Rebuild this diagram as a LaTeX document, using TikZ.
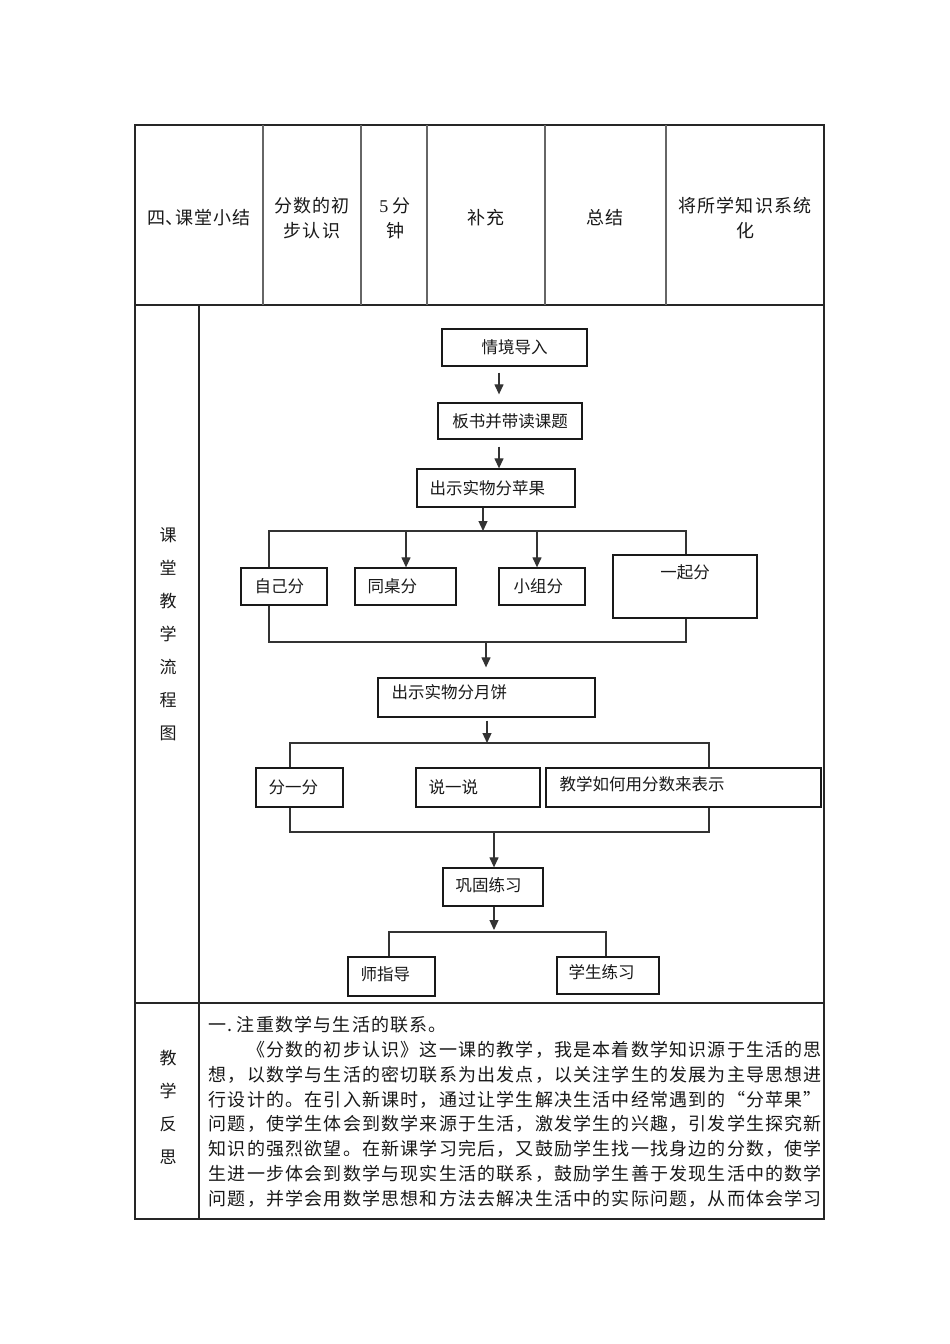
\documentclass[tikz,border=0pt]{standalone}
\usepackage{fontspec}
\setmainfont{Noto Sans CJK SC}
\newfontfamily\lat{Liberation Serif}
\usetikzlibrary{arrows.meta,calc}
\newlength\cw
\setlength\cw{19.2pt}
\def\cc#1{\ccA#1\relax}
\def\ccA#1{\ifx\relax#1\else\makebox[\cw]{#1}\expandafter\ccA\fi}
\newcommand\mkbox[5]{\node[box, minimum width={(#4-#2)*1pt}, minimum height={(#5-#3)*1pt}] (#1) at ({(#2+#4)/2},{(#3+#5)/2}) {};}
\begin{document}
\begin{tikzpicture}[x=1pt,y=-1pt,
  box/.style={draw=black!90, line width=1.3pt, inner sep=0pt, fill=white},
  conn/.style={draw=black!80, line width=1.2pt},
  arr/.style={conn, -{Triangle[length=10pt,width=9pt]}},
  grid/.style={draw=black!85, line width=1.4pt},
  gridthin/.style={draw=black!60, line width=1.1pt},
  ftxt/.style={font=\fontsize{16.5}{20}\selectfont, inner sep=0pt, text=black!90},
  ttxt/.style={font=\fontsize{18}{25}\selectfont, inner sep=0pt, align=center, text=black!90},
  ptxt/.style={font=\fontsize{18}{25}\selectfont, inner sep=0pt, anchor=west, text=black!90},
  vtxt/.style={font=\fontsize{17}{33}\selectfont, inner sep=0pt, align=center, text=black!90}]
\fill[white] (0,0) rectangle (950,1344);
\useasboundingbox (0,0) rectangle (950,1344);

% table
\draw[grid] (135,125) rectangle (824,1219);
\draw[grid] (135,305) -- (824,305);
\draw[grid] (135,1003) -- (824,1003);
\foreach \x in {263,361,427,545,666} \draw[gridthin] (\x,125) -- (\x,305);
\draw[grid] (199,305) -- (199,1219);

% top row
\node[ttxt] (c1) at (199,218) {\cc{四}\makebox[9pt][l]{、}\cc{课堂小结}};
\node[ttxt] (c2) at (312,218) {\cc{分数的初}\\\cc{步认识}};
\node[ttxt] (c3) at (395,218) {{\lat 5} 分\\钟};
\node[ttxt] (c4) at (486,218) {\cc{补充}};
\node[ttxt] (c5) at (605,218) {\cc{总结}};
\node[ttxt] (c6) at (745,218) {\cc{将所学知识系统}\\\cc{化}};

% left column
\node[vtxt] (lc1) at (168,634) {课\\堂\\教\\学\\流\\程\\图};
\node[vtxt] (lc2) at (168,1107) {教\\学\\反\\思};

% flowchart boxes
\mkbox{intro}{442}{329}{587}{366}
\mkbox{title}{438}{403}{582}{439}
\mkbox{apple}{417}{469}{575}{507}
\mkbox{self}{241}{568}{327}{605}
\mkbox{desk}{355}{568}{456}{605}
\mkbox{group}{499}{568}{585}{605}
\mkbox{all}{613}{555}{757}{618}
\mkbox{cake}{378}{678}{595}{717}
\mkbox{fen}{256}{768}{343}{807}
\mkbox{say}{416}{768}{540}{807}
\mkbox{how}{546}{768}{821}{807}
\mkbox{cons}{443}{868}{543}{906}
\mkbox{teach}{348}{957}{435}{996}
\mkbox{prac}{557}{957}{659}{994}

% flowchart texts
\node[ftxt] (tintro) at (intro) {情境导入};
\node[ftxt] (ttitle) at (title) {板书并带读课题};
\node[ftxt, anchor=west] (tapple) at ($(apple.west)+(13,0)$) {出示实物分苹果};
\node[ftxt, anchor=west] (tself) at ($(self.west)+(14,0)$) {自己分};
\node[ftxt, anchor=west] (tdesk) at ($(desk.west)+(13,0)$) {同桌分};
\node[ftxt, anchor=west] (tgroup) at ($(group.west)+(15,0)$) {小组分};
\node[ftxt] (tall) at ($(all.north)+(0,18)$) {一起分};
\node[ftxt, anchor=west] (tcake) at ($(cake.north west)+(14,15)$) {出示实物分月饼};
\node[ftxt, anchor=west] (tfen) at ($(fen.west)+(13,0)$) {分一分};
\node[ftxt, anchor=west] (tsay) at ($(say.west)+(13,0)$) {说一说};
\node[ftxt, anchor=west] (thow) at ($(how.west)+(14,-3)$) {教学如何用分数来表示};
\node[ftxt, anchor=west] (tcons) at ($(cons.west)+(13,-2)$) {巩固练习};
\node[ftxt, anchor=west] (tteach) at ($(teach.west)+(13,-2)$) {师指导};
\node[ftxt, anchor=west] (tprac) at ($(prac.west)+(12,-3)$) {学生练习};

% connectors
\coordinate (a0) at (499,0);
\draw[arr, shorten <=6pt, shorten >=8pt] (intro.south -| a0) -- (title.north -| a0);
\draw[arr, shorten <=7pt] (title.south -| a0) -- (apple.north -| a0);

\coordinate (b1L) at (269,531);
\coordinate (b1R) at (686,531);
\coordinate (a1) at (483,531);
\coordinate (d1) at (406,531);
\coordinate (d2) at (537,531);
\draw[arr] (apple.south -| a1) -- (a1);
\draw[conn] (self.north -| b1L) -- (b1L) -- (b1R) -- (all.north -| b1R);
\draw[arr] (d1) -- (desk.north -| d1);
\draw[arr] (d2) -- (group.north -| d2);

\coordinate (b2L) at (269,642);
\coordinate (b2R) at (686,642);
\coordinate (a2) at (486,642);
\draw[conn] (self.south -| b2L) -- (b2L) -- (b2R) -- (all.south -| b2R);
\draw[arr, shorten >=10pt] (a2) -- (cake.north -| a2);

\coordinate (a3) at (487,743);
\coordinate (b3L) at (290,743);
\coordinate (b3R) at (709,743);
\draw[arr, shorten <=3pt] (cake.south -| a3) -- (a3);
\draw[conn] (fen.north -| b3L) -- (b3L) -- (b3R) -- (how.north -| b3R);

\coordinate (b4L) at (290,832);
\coordinate (b4R) at (709,832);
\coordinate (a4) at (494,832);
\draw[conn] (fen.south -| b4L) -- (b4L) -- (b4R) -- (how.south -| b4R);
\draw[arr] (a4) -- (cons.north -| a4);

\coordinate (a5) at (494,932);
\coordinate (b5L) at (389,932);
\coordinate (b5R) at (606,932);
\draw[arr, shorten >=2pt] (cons.south -| a5) -- (a5);
\draw[conn] (teach.north -| b5L) -- (b5L) -- (b5R) -- (prac.north -| b5R);

% reflection paragraph
\node[ptxt] (p1) at (208,1025) {\cc{一}\makebox[9pt][l]{.}\cc{注重数学与生活的联系。}};
\node[ptxt] (p2) at (246.4,1050) {\cc{《分数的初步认识》这一课的教学，我是本着数学知识源于生活的思}};
\node[ptxt] (p3) at (208,1075) {\cc{想，以数学与生活的密切联系为出发点，以关注学生的发展为主导思想进}};
\node[ptxt] (p4) at (208,1100) {\cc{行设计的。在引入新课时，通过让学生解决生活中经常遇到的“分苹果”}};
\node[ptxt] (p5) at (208,1124) {\cc{问题，使学生体会到数学来源于生活，激发学生的兴趣，引发学生探究新}};
\node[ptxt] (p6) at (208,1149) {\cc{知识的强烈欲望。在新课学习完后，又鼓励学生找一找身边的分数，使学}};
\node[ptxt] (p7) at (208,1174) {\cc{生进一步体会到数学与现实生活的联系，鼓励学生善于发现生活中的数学}};
\node[ptxt] (p8) at (208,1199) {\cc{问题，并学会用数学思想和方法去解决生活中的实际问题，从而体会学习}};
\end{tikzpicture}
\end{document}
